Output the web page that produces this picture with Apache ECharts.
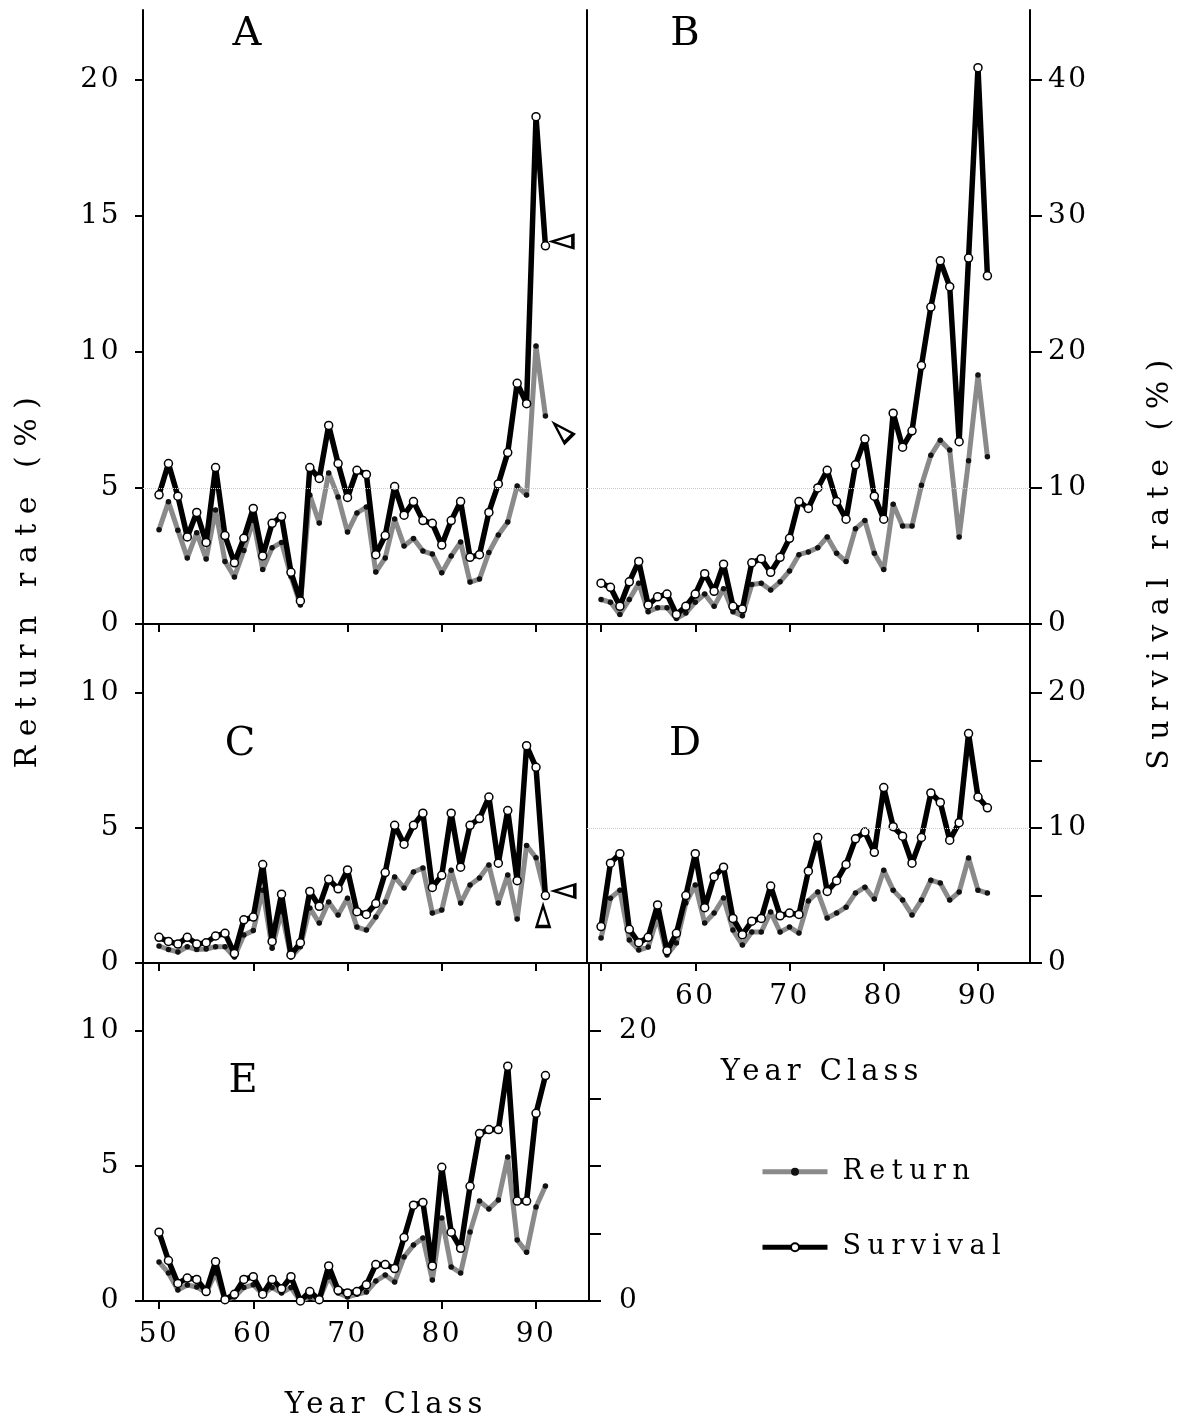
<!DOCTYPE html>
<html><head><meta charset="utf-8">
<script src="https://cdn.jsdelivr.net/npm/echarts@6/dist/echarts.min.js"></script>
<style>html,body{margin:0;padding:0;background:#fff}#c{width:1183px;height:1423px}</style>
</head><body><div id="c"></div>
<script>
// ---------- DATA ----------
const years = [50,51,52,53,54,55,56,57,58,59,60,61,62,63,64,65,66,67,68,69,70,71,72,73,74,75,76,77,78,79,80,81,82,83,84,85,86,87,88,89,90,91];

// Return rate (%) - left axis
const returnA = [3.46,4.49,3.45,2.43,3.35,2.39,4.19,2.3,1.73,2.7, 3.8,2.0,2.8,3.0,1.75,0.7,4.74,3.71,5.55,4.67, 3.38,4.08,4.3,1.91,2.43,3.86,2.87,3.14,2.68,2.57, 1.88,2.5,3.01,1.54,1.65,2.63,3.27,3.75,5.07,4.74, 10.22,7.65];
const returnB = [0.9,0.8,0.35,0.9,1.5,0.45,0.6,0.6,0.2,0.4, 0.8,1.1,0.65,1.3,0.45,0.3,1.45,1.5,1.25,1.55, 1.95,2.55,2.65,2.8,3.2,2.6,2.3,3.5,3.8,2.6, 2.0,4.4,3.6,3.6,5.1,6.2,6.75,6.4,3.2,6.0, 9.15,6.15];
const returnC = [0.63,0.5,0.41,0.6,0.5,0.52,0.6,0.6,0.22,1.04, 1.2,2.7,0.55,1.9,0.22,0.6,2.04,1.48,2.26,1.78, 2.4,1.33,1.22,1.7,2.26,3.19,2.78,3.37,3.52,1.85, 1.96,3.44,2.22,2.89,3.15,3.63,2.22,3.26,1.63,4.35, 3.9,2.5];
const returnD = [0.93,2.4,2.7,0.85,0.48,0.59,1.7,0.3,0.74,2.22, 2.89,1.48,1.85,2.41,1.22,0.67,1.15,1.15,1.89,1.15, 1.33,1.11,2.3,2.63,1.67,1.85,2.07,2.59,2.81,2.37, 3.44,2.7,2.33,1.78,2.33,3.07,2.96,2.33,2.63,3.89, 2.7,2.59];
const returnE = [1.44,1.04,0.41,0.59,0.52,0.3,1.04,0.05,0.15,0.5, 0.6,0.25,0.5,0.3,0.5,0.0,0.15,0.05,0.89,0.3, 0.15,0.25,0.33,0.74,0.96,0.7,1.63,2.07,2.33,0.78, 3.07,1.26,1.04,2.56,3.7,3.41,3.74,5.33,2.26,1.81, 3.48,4.26];

// Survival rate (%) - right axis
const survivalA = [9.5,11.8,9.4,6.4,8.2,6.0,11.5,6.5,4.5,6.3, 8.5,5.0,7.4,7.9,3.8,1.7,11.5,10.7,14.6,11.8, 9.3,11.3,11.0,5.1,6.5,10.1,8.0,9.0,7.6,7.4, 5.8,7.6,9.0,4.9,5.1,8.2,10.3,12.6,17.7,16.2, 37.3,27.8];
const survivalB = [3.0,2.7,1.3,3.1,4.6,1.4,2.0,2.2,0.7,1.3, 2.2,3.7,2.4,4.4,1.3,1.1,4.5,4.8,3.8,4.9, 6.3,9.0,8.5,10.0,11.3,9.0,7.7,11.7,13.6,9.4, 7.7,15.5,13.0,14.2,19.0,23.3,26.7,24.8,13.4,26.9, 40.9,25.6];
const survivalC = [1.9,1.6,1.4,1.9,1.4,1.5,2.0,2.2,0.7,3.2, 3.4,7.3,1.6,5.1,0.6,1.5,5.3,4.2,6.2,5.5, 6.9,3.8,3.6,4.4,6.7,10.2,8.8,10.2,11.1,5.6, 6.5,11.1,7.1,10.2,10.7,12.3,7.4,11.3,6.1,16.1, 14.5,5.0];
const survivalD = [2.7,7.4,8.1,2.5,1.5,1.9,4.3,0.9,2.2,5.0, 8.1,4.1,6.4,7.1,3.3,2.1,3.1,3.3,5.7,3.5, 3.7,3.6,6.8,9.3,5.3,6.1,7.3,9.2,9.7,8.2, 13.0,10.1,9.4,7.4,9.3,12.6,11.9,9.1,10.4,17.0, 12.3,11.5];
const survivalE = [5.1,3.0,1.3,1.7,1.6,0.7,2.9,0.1,0.5,1.6, 1.8,0.5,1.6,0.9,1.8,0.0,0.7,0.1,2.6,0.8, 0.6,0.7,1.2,2.7,2.7,2.4,4.7,7.1,7.3,2.6, 9.9,5.1,3.9,8.5,12.4,12.7,12.7,17.4,7.4,7.4, 13.9,16.7];

// Open-triangle markers (year, return-axis value, direction)
const markersA = [{year:92.8, value:14.06, dir:'left'}, {year:92.7, value:7.1, dir:'upLeft'}];
const markersC = [{year:93.0, value:2.67, dir:'left'}, {year:90.75, value:1.74, dir:'up'}];

// Tick values
const yearTicks = [50,60,70,80,90];
const yearLabelsD = [60,70,80,90];
const returnTicksTop = [0,5,10,15,20];
const survivalTicksTop = [0,10,20,30,40];
const returnTicksLow = [0,5,10];
const survivalTicksLow = [0,5,10,15,20];
const survivalLabelsD = [0,10,20];
const survivalLabelsE = [0,20];

// ---------- TEXT LETTER SPACING (per font size, drawn by canvas) ----------
const SPACING = {27:6.5, 28:2.5, 29:5, 30:9.5};
(function(){
  const P = CanvasRenderingContext2D.prototype;
  if (!('letterSpacing' in P)) return;
  const sp = f => { const m = /(\d+(?:\.\d+)?)px/.exec(f || ''); return ((m && SPACING[+m[1]]) || 0) + 'px'; };
  const oFill = P.fillText, oStroke = P.strokeText, oMeasure = P.measureText;
  P.fillText = function(){ this.letterSpacing = sp(this.font); return oFill.apply(this, arguments); };
  P.strokeText = function(){ this.letterSpacing = sp(this.font); return oStroke.apply(this, arguments); };
  P.measureText = function(){ this.letterSpacing = sp(this.font); return oMeasure.apply(this, arguments); };
})();

// ---------- LAYOUT / STYLE ----------
const FONT = '"DejaVu Serif", "Liberation Serif", serif';
const FS = 28;
const dirRot = {left: 90, upLeft: 45, up: 0};

const panels = [
  {id:'A', ret:returnA, surv:survivalA, grid:{left:143, top:10, width:444, height:614}, xr:[48.3,95.41], yMax:22.57,
   leftTicks:returnTicksTop, leftLabels:returnTicksTop, right:null, xLabels:null, markers:markersA, dotted:true, letter:[247,35]},
  {id:'B', ret:returnB, surv:survivalB, grid:{left:587, top:10, width:443, height:614}, xr:[48.51,95.52], yMax:22.57,
   leftTicks:[], leftLabels:[], right:{ticks:survivalTicksTop, labels:survivalTicksTop, margin:18}, xLabels:null, markers:[], dotted:true, letter:[685,35]},
  {id:'C', ret:returnC, surv:survivalC, grid:{left:143, top:624, width:444, height:339}, xr:[48.3,95.41], yMax:12.56,
   leftTicks:returnTicksLow, leftLabels:returnTicksLow, right:null, xLabels:null, markers:markersC, dotted:false, letter:[240,745]},
  {id:'D', ret:returnD, surv:survivalD, grid:{left:587, top:624, width:443, height:339}, xr:[48.51,95.52], yMax:12.56,
   leftTicks:[], leftLabels:[], right:{ticks:survivalTicksLow, labels:survivalLabelsD, margin:18}, xLabels:yearLabelsD, markers:[], dotted:true, letter:[685,745]},
  {id:'E', ret:returnE, surv:survivalE, grid:{left:143, top:963, width:446, height:338}, xr:[48.3,95.62], yMax:12.52,
   leftTicks:returnTicksLow, leftLabels:returnTicksLow, right:{ticks:survivalTicksLow, labels:survivalLabelsE, margin:30}, xLabels:yearTicks, markers:[], dotted:false, letter:[243,1082]}
];

const axisLineStyle = {color:'#000', width:2};
const labelStyle = {color:'#000', fontFamily:FONT, fontSize:FS};
const RET_COLOR = '#8a8a8a';

const grid = [], xAxis = [], yAxis = [], series = [];
panels.forEach((p, i) => {
  grid.push(Object.assign({containLabel:false}, p.grid));
  xAxis.push({
    type:'value', gridIndex:i, min:p.xr[0], max:p.xr[1],
    axisLine:{show:true, onZero:false, lineStyle:axisLineStyle},
    axisTick:{show:true, inside:false, length:8, customValues:yearTicks, lineStyle:axisLineStyle},
    axisLabel:Object.assign({show:!!p.xLabels, customValues:p.xLabels || yearTicks, margin:18}, labelStyle),
    splitLine:{show:false}
  });
  yAxis.push({
    type:'value', gridIndex:i, position:'left', min:0, max:p.yMax,
    axisLine:{show:true, onZero:false, lineStyle:axisLineStyle},
    axisTick:{show:p.leftTicks.length>0, inside:false, length:8, customValues:p.leftTicks.length?p.leftTicks:[0], lineStyle:axisLineStyle},
    axisLabel:Object.assign({show:p.leftLabels.length>0, customValues:p.leftLabels.length?p.leftLabels:[0], margin:22}, labelStyle),
    splitLine:{show:false}
  });
  yAxis.push({
    type:'value', gridIndex:i, position:'right', min:0, max:p.yMax*2,
    show:!!p.right,
    axisLine:{show:!!p.right, onZero:false, lineStyle:axisLineStyle},
    axisTick:{show:!!p.right, inside:false, length:12, customValues:p.right?p.right.ticks:[0], lineStyle:axisLineStyle},
    axisLabel:Object.assign({show:!!p.right, customValues:p.right?p.right.labels:[0], margin:p.right?p.right.margin:8}, labelStyle),
    splitLine:{show:false}
  });
  const retSeries = {
    name:'Return', type:'line', xAxisIndex:i, yAxisIndex:2*i,
    data: years.map((y,k)=>[y, p.ret[k]]),
    symbol:'circle', symbolSize:5.5, showSymbol:true,
    lineStyle:{color:RET_COLOR, width:5, join:'round'},
    itemStyle:{color:'#111'},
    z:2, silent:true
  };
  if (p.dotted) {
    retSeries.markLine = {silent:true, symbol:'none', label:{show:false},
      lineStyle:{color:'#cccccc', type:'dotted', width:1}, data:[{yAxis:5}]};
  }
  series.push(retSeries);
  series.push({
    name:'Survival', type:'line', xAxisIndex:i, yAxisIndex:2*i+1,
    data: years.map((y,k)=>[y, p.surv[k]]),
    symbol:'circle', symbolSize:8, showSymbol:true,
    lineStyle:{color:'#000', width:5.5, join:'round'},
    itemStyle:{color:'#fff', borderColor:'#000', borderWidth:1.5},
    z:3, silent:true
  });
  if (p.markers.length) {
    series.push({
      type:'scatter', xAxisIndex:i, yAxisIndex:2*i, silent:true, z:4,
      symbol:'triangle', symbolSize:[13,21],
      itemStyle:{color:'#fff', borderColor:'#000', borderWidth:2.8, opacity:1},
      data:p.markers.map(m=>({value:[m.year, m.value], symbolRotate:dirRot[m.dir]}))
    });
  }
});

const graphic = [];
panels.forEach(p => {
  graphic.push({type:'text', x:p.letter[0], y:p.letter[1], silent:true,
    style:{text:p.id, font:'40px ' + FONT, fill:'#000', align:'center', verticalAlign:'middle'}});
});
graphic.push({type:'text', x:28, y:578, rotation:Math.PI/2, silent:true,
  style:{text:'Return rate (%)', font:'30px ' + FONT, fill:'#000', align:'center', verticalAlign:'middle'}});
graphic.push({type:'text', x:1160, y:560, rotation:Math.PI/2, silent:true,
  style:{text:'Survival rate (%)', font:'30px ' + FONT, fill:'#000', align:'center', verticalAlign:'middle'}});
graphic.push({type:'text', x:386, y:1405, silent:true,
  style:{text:'Year Class', font:'29px ' + FONT, fill:'#000', align:'center', verticalAlign:'middle'}});
graphic.push({type:'text', x:822, y:1072, silent:true,
  style:{text:'Year Class', font:'29px ' + FONT, fill:'#000', align:'center', verticalAlign:'middle'}});

const chart = echarts.init(document.getElementById('c'), null, {renderer:'canvas'});
chart.setOption({
  animation:false,
  backgroundColor:'#fff',
  grid, xAxis, yAxis, series, graphic,
  legend:{
    data:[
      {name:'Return', lineStyle:{color:RET_COLOR, width:5}},
      {name:'Survival', lineStyle:{color:'#000', width:5}}
    ],
    orient:'vertical', left:755, top:1150,
    itemWidth:65, itemHeight:10, itemGap:42,
    textStyle:{color:'#000', fontFamily:FONT, fontSize:27, padding:[0,0,0,10]},
    selectedMode:false
  }
});
</script>
</body></html>
